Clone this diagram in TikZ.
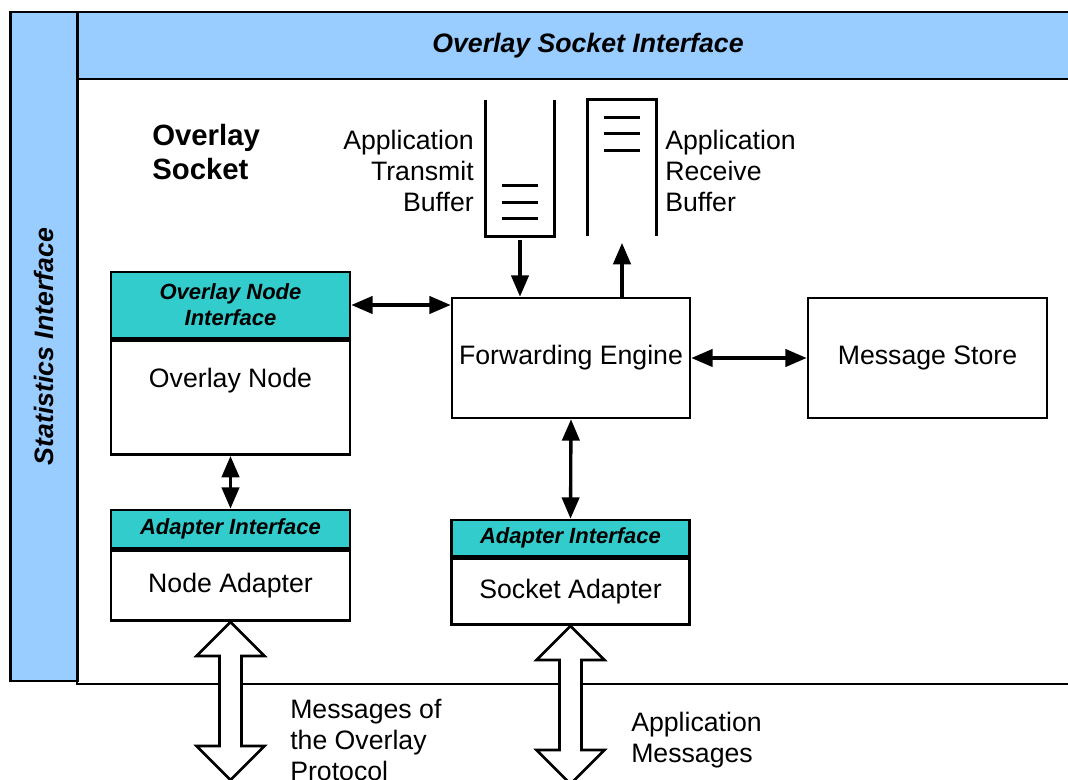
\documentclass[tikz,border=0pt]{standalone}
\usepackage{fontspec}
\setmainfont{Liberation Sans}
\usetikzlibrary{arrows.meta}
\definecolor{barblue}{HTML}{99CCFF}
\definecolor{hdrteal}{HTML}{33CCCC}

\begin{document}
\begin{tikzpicture}[
		x=0.75pt, y=-0.75pt,
		bar/.style = {rectangle, draw, fill=barblue, line width=2pt, font=\fontsize{20}{24}\selectfont\bfseries\itshape},
		hdr/.style = {rectangle, draw, fill=hdrteal, line width=2pt, inner sep=0pt, align=center, font=\fontsize{16.5}{19.5}\selectfont\bfseries\itshape},
		box/.style = {rectangle, draw, fill=white, line width=2pt, font=\fontsize{20}{23.25}\selectfont},
		txt/.style = {inner sep=0pt, font=\fontsize{20}{23.25}\selectfont},
		dbl/.style = {{Triangle[length=16pt,width=13pt]}-{Triangle[length=16pt,width=13pt]}, line width=2.5pt},
		sgl/.style = {-{Triangle[length=16pt,width=13pt]}, line width=2.5pt},
		hollow/.style = {draw, fill=white, line width=2pt, line join=miter}
		]
		
		\clip (0,0) rectangle (1068,780);
		
		% === === Frame === ===
		\draw[line width=2pt, fill=white] (77,79) rectangle (1098,684);
		\node[bar, minimum width=765pt, minimum height=50.25pt]	(osi)	at	(588, 45.5)		{Overlay Socket Interface};
		\node[bar, rotate=90, minimum width=501.75pt, minimum height=50.25pt]	(stat)	at	(44, 346.5)	{Statistics Interface};
		
		% === === Nodes === ===
		\node[box, minimum width=178.5pt, minimum height=90pt]	(fe)	at	(571, 358)		{Forwarding Engine};
		\node[box, minimum width=179.25pt, minimum height=90pt]	(ms)	at	(927.5, 358)	{Message Store};
		
		\node[hdr, minimum width=179.25pt, minimum height=49.5pt]	(onh)	at	(230.5, 305)	{Overlay Node\\Interface};
		\node[box, minimum width=179.25pt, minimum height=85.5pt, anchor=north,
			label={[txt, yshift=12.75pt]center:Overlay Node}]	(on)	at	(onh.south)	{};
		
		\node[hdr, minimum width=179.25pt, minimum height=28.5pt]	(nah)	at	(230.5, 529)	{Adapter Interface};
		\node[box, minimum width=179.25pt, minimum height=52.5pt, anchor=north]	(na)	at	(nah.south)	{Node Adapter};
		
		\node[hdr, minimum width=178.5pt, minimum height=27pt]	(sah)	at	(570.5, 538)	{Adapter Interface};
		\node[box, minimum width=178.5pt, minimum height=49.5pt, anchor=north]	(sa)	at	(sah.south)	{Socket Adapter};
		
		\node[minimum width=51pt, minimum height=102pt]	(tb)	at	(520, 168)	{};
		\node[minimum width=51pt, minimum height=102pt]	(rb)	at	(622, 168)	{};
		\draw[line width=2pt] (tb.north west) -- (tb.south west) -- (tb.south east) -- (tb.north east);
		\draw[line width=2pt] (rb.south west) -- (rb.north west) -- (rb.north east) -- (rb.south east);
		\foreach \d in {18,34,51} {
			\draw[line width=2pt] ([shift={(-18,-\d)}]tb.south) -- ++(36,0);
			\draw[line width=2pt] ([shift={(-18,\d)}]rb.north) -- ++(36,0);
		}
		
		% === === Labels === ===
		\node[txt, font=\fontsize{22}{25}\selectfont\bfseries, align=left, anchor=west]	(osl)	at	(152, 152)	{Overlay\\Socket};
		\node[txt, align=right, anchor=east]	(tbl)	at	(474, 171)	{Application\\Transmit\\Buffer};
		\node[txt, align=left, anchor=west]	(rbl)	at	(665, 171)	{Application\\Receive\\Buffer};
		\node[txt, align=left, anchor=west]	(nal)	at	(290, 740)	{Messages of\\the Overlay\\Protocol};
		\node[txt, align=left, anchor=west]	(sal)	at	(631, 740)	{Application\\Messages};
		
		% === === Lines === ===
		\draw[sgl, shorten <=3pt]	(tb.south)		--	(tb.south |- fe.north);
		\draw[sgl, shorten >=5pt]	(rb.south |- fe.north)	--	(rb.south);
		\draw[dbl]	(onh.east)		--	(onh.east -| fe.west);
		\draw[dbl]	(fe.east)		--	(ms.west);
		\draw[dbl]	(on.south)		--	(nah.north);
		\draw[dbl]	(fe.south)		--	(sah.north);
		
		\draw[hollow] (na.south) -- ++(34,34) -- ++(-23,0) -- ++(0,90) -- ++(23,0) -- ++(-34,34) -- ++(-34,-34) -- ++(23,0) -- ++(0,-90) -- ++(-23,0) -- cycle;
		\draw[hollow] (sa.south) -- ++(34,34) -- ++(-23,0) -- ++(0,90) -- ++(23,0) -- ++(-34,34) -- ++(-34,-34) -- ++(23,0) -- ++(0,-90) -- ++(-23,0) -- cycle;
		
	\end{tikzpicture}
\end{document}
